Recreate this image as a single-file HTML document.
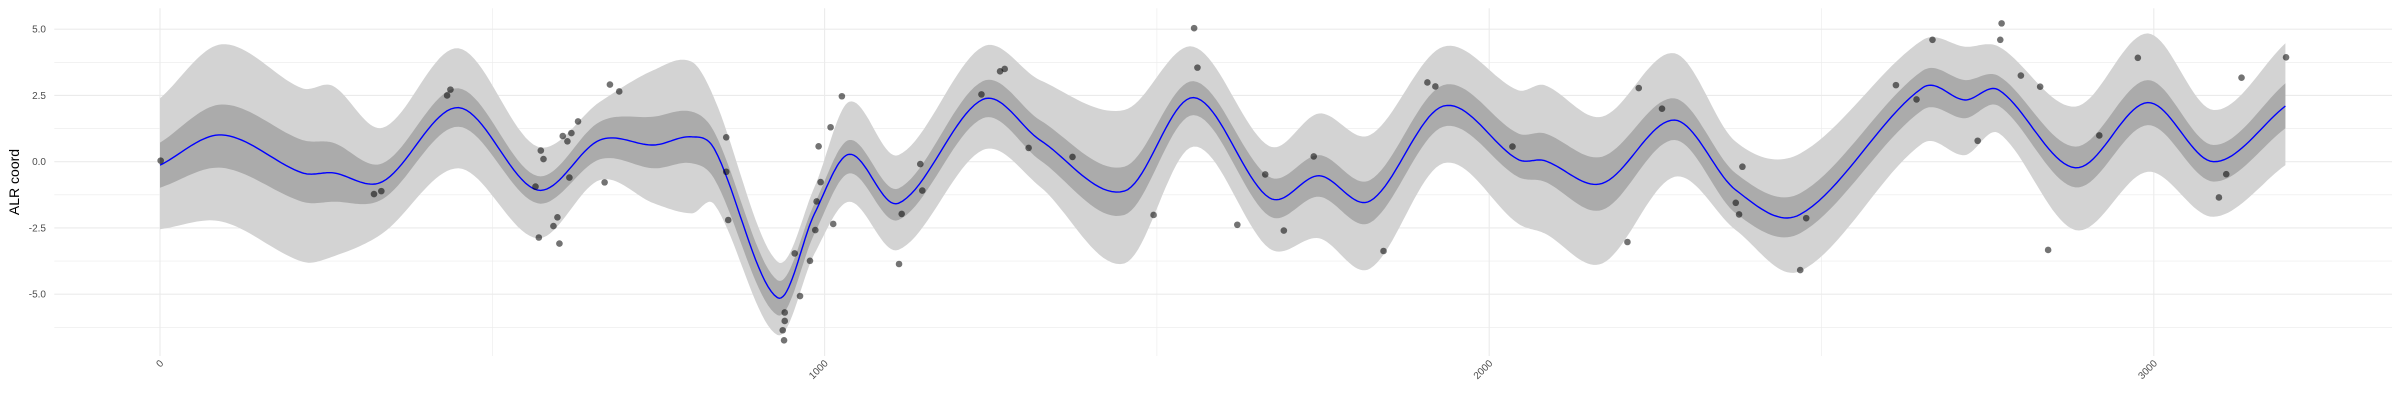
<!DOCTYPE html>
<html><head><meta charset="utf-8"><style>
html,body{margin:0;padding:0;background:#fff;width:2400px;height:400px;overflow:hidden}
svg{display:block;font-family:"Liberation Sans",sans-serif}
</style></head><body>
<svg id="chart" width="2400" height="400" viewBox="0 0 2400 400">
<g id="grid"></g>
<g id="bands"></g>
<g id="line"></g>
<g id="pts"></g>
<g id="axes"></g>
<text transform="translate(19,182) rotate(-90)" text-anchor="middle" font-size="14" fill="#000">ALR coord</text>
</svg>
<script>
const bandX=[0,93,214,260,335,449,568,662,743,800,835,929,985,1037,1111,1238,1324,1451,1555,1669,1744,1821,1931,2043,2083,2170,2279,2371,2468,2652,2716,2767,2882,2991,3090,3198];
const meanV=[-0.13,1.01,-0.42,-0.42,-0.75,2.04,-1.07,0.82,0.63,0.94,0.44,-5.13,-1.95,0.28,-1.57,2.35,0.82,-1.11,2.42,-1.36,-0.53,-1.48,2.10,0.09,0.04,-0.82,1.57,-1.07,-1.99,2.79,2.33,2.70,-0.23,2.23,0.0,2.10];
const innerUp=[0.72,2.16,0.82,0.72,-0.06,2.77,-0.54,1.51,1.70,1.89,1.07,-4.47,-1.57,0.82,-1.01,3.04,1.57,-0.19,3.04,-0.57,0.25,-0.69,2.89,1.07,1.07,0.19,2.39,-0.44,-1.19,3.43,3.08,3.23,0.57,3.08,0.63,2.96];
const innerLo=[-0.98,-0.23,-1.51,-1.51,-1.41,1.32,-1.57,0.09,-0.25,-0.06,-0.69,-5.79,-2.70,-0.44,-2.20,1.64,0.06,-2.01,1.76,-2.05,-1.32,-2.30,1.32,-0.57,-0.75,-1.82,0.82,-1.95,-2.70,1.95,1.64,2.10,-0.97,1.38,-0.75,1.26];
const outerUp=[2.39,4.43,2.77,2.86,1.28,4.28,0.57,2.26,3.46,3.77,2.33,-3.77,-0.94,2.26,0.25,4.34,3.08,1.95,4.34,0.59,1.82,1.01,4.34,2.70,2.89,1.70,4.09,0.75,0.31,4.59,4.34,4.34,2.08,4.84,1.95,4.47];
const outerLo=[-2.55,-2.26,-3.77,-3.58,-2.70,-0.25,-2.89,-0.69,-1.57,-1.95,-1.64,-6.54,-3.46,-1.51,-3.33,0.44,-0.94,-3.84,0.57,-3.27,-2.89,-4.03,-0.06,-2.33,-2.70,-3.84,-0.57,-2.58,-4.13,0.69,0.25,1.07,-2.58,-0.38,-2.08,-0.13];
const ptX=[1,322,333,432,437,565,573,577,570,592,598,601,606,613,616,619,629,669,677,691,852,852,855,940,940,937,939,955,963,978,986,988,994,991,1009,1013,1026,1112,1116,1144,1147,1236,1264,1271,1307,1373,1495,1556,1561,1621,1663,1691,1736,1841,1907,1919,2035,2208,2225,2260,2371,2376,2381,2468,2477,2612,2643,2667,2735,2769,2771,2800,2829,2841,2918,2976,3098,3109,3132,3199];
const ptV=[0.04,-1.22,-1.11,2.50,2.72,-0.94,0.42,0.10,-2.86,-2.43,-2.10,-3.09,0.97,0.77,-0.60,1.08,1.52,-0.78,2.91,2.65,0.92,-0.38,-2.20,-5.69,-6.01,-6.36,-6.74,-3.46,-5.07,-3.74,-2.58,-1.50,-0.77,0.58,1.30,-2.35,2.47,-3.86,-1.97,-0.09,-1.09,2.54,3.41,3.50,0.52,0.18,-2.01,5.04,3.55,-2.38,-0.48,-2.60,0.20,-3.37,2.99,2.84,0.57,-3.03,2.78,2.00,-1.55,-1.99,-0.19,-4.09,-2.13,2.89,2.35,4.60,0.79,4.60,5.22,3.25,2.83,-3.33,0.99,3.92,-1.35,-0.47,3.17,3.94];
const yTicks=[-5,-2.5,0,2.5,5];
const yTickLabels=["-5.0","-2.5","0.0","2.5","5.0"];
const yMinor=[-6.25,-3.75,-1.25,1.25,3.75];
const xTicks=[0,1000,2000,3000];
const xTickLabels=["0","1000","2000","3000"];
const xMinor=[500,1500,2500];

const NS="http://www.w3.org/2000/svg";
const PL=54.3,PR=2392,PT=8.3,PB=356;
function sx(x){return 160+0.6646*x;}
function sy(v){return 161.7-26.5*v;}
function mk(tag,attrs,parent){const e=document.createElementNS(NS,tag);for(const k in attrs)e.setAttribute(k,attrs[k]);parent.appendChild(e);return e;}
function spline(xs,vs){
  const out=[];
  for(let i=0;i<xs.length-1;i++){
    const x0=xs[Math.max(i-1,0)],x1=xs[i],x2=xs[i+1],x3=xs[Math.min(i+2,xs.length-1)];
    const v0=vs[Math.max(i-1,0)],v1=vs[i],v2=vs[i+1],v3=vs[Math.min(i+2,vs.length-1)];
    const m1=(v2-v0)/((x2-x0)||1)*(x2-x1), m2=(v3-v1)/((x3-x1)||1)*(x2-x1);
    for(let s=0;s<20;s++){const t=s/20,t2=t*t,t3=t2*t;
      const h00=2*t3-3*t2+1,h10=t3-2*t2+t,h01=-2*t3+3*t2,h11=t3-t2;
      out.push([sx(x1+(x2-x1)*t),sy(h00*v1+h10*m1+h01*v2+h11*m2)]);}
  }
  out.push([sx(xs[xs.length-1]),sy(vs[vs.length-1])]);
  return out;
}
const grid=document.getElementById('grid');
yMinor.forEach(v=>{const l=mk('line',{x1:PL,x2:PR,y1:sy(v),y2:sy(v),stroke:'#ebebeb','stroke-width':0.6},grid);

});
xMinor.forEach(x=>{const l=mk('line',{x1:sx(x),x2:sx(x),y1:PT,y2:PB,stroke:'#ebebeb','stroke-width':0.6},grid);

});
yTicks.forEach(v=>{const l=mk('line',{x1:PL,x2:PR,y1:sy(v),y2:sy(v),stroke:'#ebebeb','stroke-width':1.1},grid);

});
xTicks.forEach(x=>{const l=mk('line',{x1:sx(x),x2:sx(x),y1:PT,y2:PB,stroke:'#ebebeb','stroke-width':1.1},grid);

});
function band(up,lo,fill,name){
  const a=spline(bandX,up),b=spline(bandX,lo).reverse();
  const p=mk('polygon',{points:a.concat(b).map(q=>q[0].toFixed(1)+','+q[1].toFixed(1)).join(' '),fill:fill},document.getElementById('bands'));
  
  
}
band(outerUp,outerLo,'#d3d3d3','outer-interval-band');
band(innerUp,innerLo,'#ababab','inner-interval-band');
const ml=mk('polyline',{points:spline(bandX,meanV).map(q=>q[0].toFixed(1)+','+q[1].toFixed(1)).join(' '),fill:'none',stroke:'#0000ff','stroke-width':1.4},document.getElementById('line'));


const pg=document.getElementById('pts');
ptX.forEach((x,i)=>{const c=mk('circle',{cx:sx(x),cy:sy(ptV[i]),r:3.3,fill:'#000','fill-opacity':0.55},pg);

});
const ax=document.getElementById('axes');
yTicks.forEach((v,i)=>{const t=mk('text',{x:46,y:sy(v)+3.5,'text-anchor':'end','font-size':10,fill:'#4d4d4d'},ax);t.textContent=yTickLabels[i];

});
xTicks.forEach((x,i)=>{const t=mk('text',{transform:'translate('+(sx(x)+4)+',364) rotate(-45)','text-anchor':'end','font-size':10,fill:'#4d4d4d'},ax);t.textContent=xTickLabels[i];

});
</script>
</body></html>
